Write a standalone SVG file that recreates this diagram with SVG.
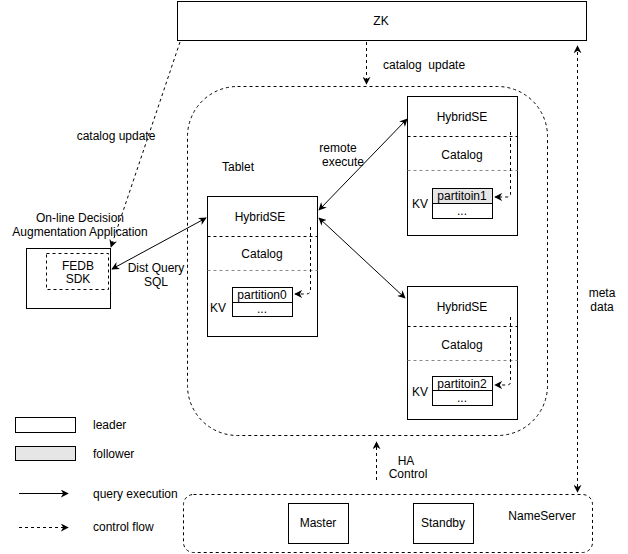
<svg xmlns="http://www.w3.org/2000/svg" width="628" height="554" viewBox="0 0 628 554">
<defs>
<marker id="arr" viewBox="0 0 10 10" refX="9" refY="5" markerWidth="8" markerHeight="8" orient="auto-start-reverse" markerUnits="userSpaceOnUse">
<path d="M0,0 L10,5 L0,10 L3,5 z" fill="#000"/>
</marker>
<style>
text{font-family:"Liberation Sans",Arial,sans-serif;font-size:12px;fill:#000;}
.c{text-anchor:middle;}
.box{fill:#fff;stroke:#000;stroke-width:1;}
.dash{fill:none;stroke:#000;stroke-width:1;stroke-dasharray:3 3;}
.gdash{fill:none;stroke:#888;stroke-width:1;stroke-dasharray:3 3;}
.line{fill:none;stroke:#000;stroke-width:1;}
.fol{fill:#e6e6e6;stroke:#000;stroke-width:1;}
</style>
</defs>
<rect width="628" height="554" fill="#fff"/>

<g id="zk">
<rect class="box" x="177.5" y="1.5" width="409" height="39"/>
<text class="c" x="381" y="25">ZK</text>
</g>

<g id="tablet-group">
<rect class="dash" x="187.5" y="86.5" width="360" height="349" rx="50" ry="50"/>
<text x="222" y="171">Tablet</text>
</g>

<g id="app">
<text class="c" x="80" y="222">On-line Decision</text>
<text class="c" x="80" y="236">Augmentation Application</text>
<rect class="box" x="26.5" y="248.5" width="84" height="60"/>
<rect class="dash" x="46.5" y="253.5" width="62" height="36"/>
<text class="c" x="78" y="270">FEDB</text>
<text class="c" x="78" y="283">SDK</text>
</g>

<g id="tablet-leader">
<rect class="box" x="207.5" y="196.5" width="110" height="140"/>
<line class="dash" x1="207.5" y1="236.5" x2="317.5" y2="236.5"/>
<line class="gdash" x1="207.5" y1="270.5" x2="317.5" y2="270.5"/>
<text class="c" x="260" y="221">HybridSE</text>
<text class="c" x="262" y="258">Catalog</text>
<text x="210" y="312">KV</text>
<rect class="box" x="232.5" y="287.5" width="60" height="15"/>
<rect class="box" x="232.5" y="302.5" width="60" height="14"/>
<text class="c" x="262" y="299">partition0</text>
<text class="c" x="262" y="313">...</text>
</g>

<g id="tablet-1">
<rect class="box" x="407.5" y="96.5" width="110" height="139"/>
<line class="dash" x1="407.5" y1="136.5" x2="517.5" y2="136.5"/>
<line class="gdash" x1="407.5" y1="170.5" x2="517.5" y2="170.5"/>
<text class="c" x="462" y="121">HybridSE</text>
<text class="c" x="462" y="159">Catalog</text>
<text x="412" y="208">KV</text>
<rect class="fol" x="432.5" y="188.5" width="60" height="15"/>
<rect class="box" x="432.5" y="203.5" width="60" height="15"/>
<text class="c" x="462" y="200">partitoin1</text>
<text class="c" x="462" y="215">...</text>
</g>

<g id="tablet-2">
<rect class="box" x="407.5" y="286.5" width="110" height="133"/>
<line class="dash" x1="407.5" y1="326.5" x2="517.5" y2="326.5"/>
<line class="gdash" x1="407.5" y1="360.5" x2="517.5" y2="360.5"/>
<text class="c" x="462" y="311">HybridSE</text>
<text class="c" x="462" y="349">Catalog</text>
<text x="412" y="396">KV</text>
<rect class="box" x="432.5" y="376.5" width="60" height="14"/>
<rect class="box" x="432.5" y="390.5" width="60" height="15"/>
<text class="c" x="462" y="388">partitoin2</text>
<text class="c" x="462" y="402">...</text>
</g>

<g id="nameserver">
<rect class="dash" x="183.5" y="494.5" width="409" height="58" rx="10" ry="10"/>
<rect class="box" x="288.5" y="503.5" width="60" height="40"/>
<text class="c" x="318" y="527">Master</text>
<rect class="box" x="413.5" y="503.5" width="60" height="40"/>
<text class="c" x="443" y="527">Standby</text>
<text class="c" x="542" y="520">NameServer</text>
</g>

<g id="legend">
<rect class="box" x="15.5" y="417.5" width="60" height="15"/>
<text x="93" y="429">leader</text>
<rect class="fol" x="15.5" y="446.5" width="60" height="14"/>
<text x="93" y="458">follower</text>
<line class="line" x1="19" y1="493.5" x2="68" y2="493.5" marker-end="url(#arr)"/>
<text x="93" y="498">query execution</text>
<line class="dash" x1="19" y1="527.5" x2="68" y2="527.5" marker-end="url(#arr)"/>
<text x="93" y="531">control flow</text>
</g>

<g id="connectors">
<line class="dash" x1="366.5" y1="42" x2="366.5" y2="84" marker-end="url(#arr)"/>
<text x="383" y="69" style="white-space:pre" xml:space="preserve">catalog  update</text>
<line class="dash" x1="180" y1="42" x2="111" y2="247" marker-end="url(#arr)"/>
<text class="c" x="116" y="140">catalog update</text>
<line class="line" x1="112" y1="269" x2="206" y2="218" marker-start="url(#arr)" marker-end="url(#arr)"/>
<text class="c" x="156" y="272">Dist Query</text>
<text class="c" x="156" y="286">SQL</text>
<line class="line" x1="319" y1="210" x2="407" y2="119" marker-start="url(#arr)" marker-end="url(#arr)"/>
<text class="c" x="338" y="152">remote</text>
<text class="c" x="343" y="166">execute</text>
<line class="line" x1="319" y1="218" x2="405" y2="298" marker-start="url(#arr)" marker-end="url(#arr)"/>
<path class="dash" d="M310.5,227 L310.5,290 Q310.5,294 306,294 L295,294" marker-end="url(#arr)"/>
<path class="dash" d="M510.5,132 L510.5,194 Q510.5,197 507,197 L495,197" marker-end="url(#arr)"/>
<path class="dash" d="M510.5,317 L510.5,382 Q510.5,385 507,385 L495,385" marker-end="url(#arr)"/>
<line class="dash" x1="577.5" y1="46" x2="577.5" y2="492" marker-start="url(#arr)" marker-end="url(#arr)"/>
<text class="c" x="602" y="297">meta</text>
<text class="c" x="602" y="311">data</text>
<line class="dash" x1="376.5" y1="480" x2="376.5" y2="442" marker-end="url(#arr)"/>
<text class="c" x="406" y="465">HA</text>
<text class="c" x="408" y="478">Control</text>
</g>
</svg>
